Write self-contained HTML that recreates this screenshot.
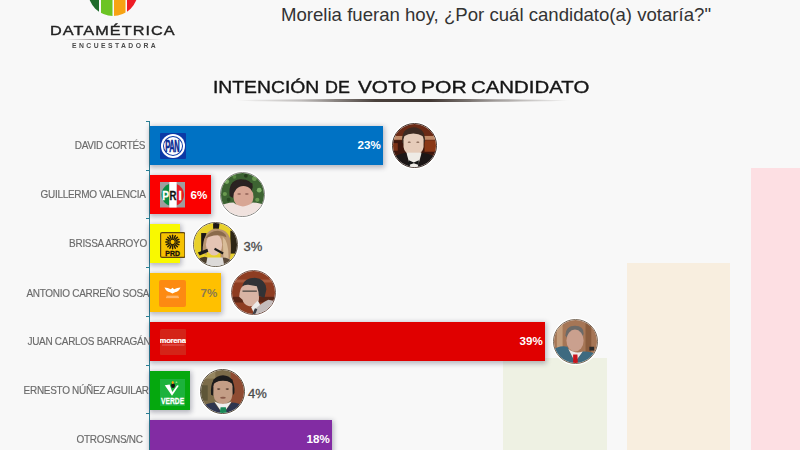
<!DOCTYPE html>
<html><head><meta charset="utf-8">
<style>
*{margin:0;padding:0;box-sizing:border-box}
html,body{width:800px;height:450px;overflow:hidden;background:#f8f8f8;font-family:"Liberation Sans",sans-serif;position:relative}
.a{position:absolute}
.lbl{position:absolute;font-size:10.5px;color:#6a6a6a;white-space:nowrap;text-align:right;line-height:11px;letter-spacing:-0.3px;-webkit-text-stroke:0.15px #6a6a6a;transform:scaleX(0.95);transform-origin:right center}
.bar{position:absolute;left:150px;height:39px;box-shadow:0 1px 5px 1.5px rgba(40,40,70,0.33)}
.pct{position:absolute;font-size:11.6px;font-weight:bold;color:#fff;line-height:11px;white-space:nowrap}
.pcto{position:absolute;font-size:13px;color:#4a4a4a;line-height:12px;white-space:nowrap;-webkit-text-stroke:0.3px #4a4a4a}
.tick{position:absolute;left:146px;width:3px;height:1px;background:#2a7f95}
.ph{position:absolute;border-radius:50%;overflow:hidden;border:1px solid #555;box-shadow:0 0 0 1.3px rgba(255,255,255,0.95)}
.ph svg{display:block;width:100%;height:100%}
.tw{position:absolute;top:78.5px;font-size:16.2px;line-height:17px;color:#151515;-webkit-text-stroke:0.35px #151515;white-space:nowrap;transform-origin:left center}
</style></head><body>

<!-- background pale columns -->
<div class="a" style="left:503px;top:358px;width:104px;height:92px;background:#eef1e3"></div>
<div class="a" style="left:627px;top:263px;width:102.5px;height:187px;background:#f8eedf"></div>
<div class="a" style="left:750.5px;top:168px;width:50px;height:282px;background:#fddfe3"></div>

<!-- logo -->
<svg class="a" style="left:85px;top:0" width="56" height="18" viewBox="0 0 56 18">
  <defs><clipPath id="lc"><circle cx="28" cy="-9" r="25"/></clipPath></defs>
  <g clip-path="url(#lc)">
    <rect x="0" y="-40" width="14" height="60" fill="#1e6b2a"/>
    <rect x="16" y="-40" width="11.5" height="60" fill="#6cc424"/>
    <rect x="29" y="-40" width="11.5" height="60" fill="#f7a313"/>
    <rect x="42" y="-40" width="14" height="60" fill="#ee1c25"/>
  </g>
</svg>
<div class="a" style="left:49.5px;top:23px;font-size:13px;line-height:15px;color:#222;letter-spacing:0.85px;-webkit-text-stroke:0.35px #222;white-space:nowrap;transform:scaleX(1.25);transform-origin:left center">DATAMÉTRICA</div>
<div class="a" style="left:64px;top:38.5px;width:98px;height:1.5px;background:linear-gradient(90deg,rgba(90,80,80,0),rgba(90,80,80,.75) 40%,rgba(90,80,80,.75) 60%,rgba(90,80,80,0))"></div>
<div class="a" style="left:72px;top:42px;font-size:6.3px;line-height:7px;font-weight:bold;color:#4a4a4a;letter-spacing:2.25px;white-space:nowrap;transform:scaleX(1.08);transform-origin:left center">ENCUESTADORA</div>

<!-- header text -->
<div class="a" style="left:281px;top:4px;font-size:18.6px;line-height:22px;color:#333">Morelia fueran hoy, ¿Por cuál candidato(a) votaría?"</div>

<!-- title -->
<div class="tw" style="left:212.56px;transform:scaleX(1.193)">INTENCIÓN</div>
<div class="tw" style="left:325.14px;transform:scaleX(1.107)">DE</div>
<div class="tw" style="left:357.50px;transform:scaleX(1.278)">VOTO</div>
<div class="tw" style="left:420.70px;transform:scaleX(1.303)">POR</div>
<div class="tw" style="left:471.24px;transform:scaleX(1.261)">CANDIDATO</div>
<div class="a" style="left:235px;top:99px;width:335px;height:3px;border-radius:50%;background:linear-gradient(90deg,rgba(55,45,40,0),rgba(55,45,40,.3) 20%,rgba(55,45,40,.9) 42%,rgba(55,45,40,.95) 58%,rgba(55,45,40,.45) 78%,rgba(55,45,40,0))"></div>

<!-- axis -->
<div class="a" style="left:149px;top:121px;width:1px;height:329px;background:#2a7f95"></div>
<div class="tick" style="top:121px"></div>
<div class="tick" style="top:170px"></div>
<div class="tick" style="top:218px"></div>
<div class="tick" style="top:267px"></div>
<div class="tick" style="top:316px"></div>
<div class="tick" style="top:365px"></div>
<div class="tick" style="top:413px"></div>

<!-- labels -->
<div class="lbl" style="right:655px;top:140px">DAVID CORTÉS</div>
<div class="lbl" style="right:654px;top:189px">GUILLERMO VALENCIA</div>
<div class="lbl" style="right:653px;top:238px">BRISSA ARROYO</div>
<div class="lbl" style="right:650.5px;top:287.5px">ANTONIO CARREÑO SOSA</div>
<div class="lbl" style="right:650px;top:336px">JUAN CARLOS BARRAGÁN</div>
<div class="lbl" style="right:651.5px;top:385px">ERNESTO NÚÑEZ AGUILAR</div>
<div class="lbl" style="right:657px;top:434px">OTROS/NS/NC</div>

<!-- bars -->
<div class="bar" style="top:126px;width:233px;background:#0072c4"></div>
<div class="bar" style="top:175px;width:61px;background:#fb0000"></div>
<div class="bar" style="top:224px;width:30px;background:#f9f900"></div>
<div class="bar" style="top:273px;width:71px;background:#ffc000"></div>
<div class="bar" style="top:322px;width:395px;background:#e00000"></div>
<div class="bar" style="top:371px;width:40px;background:#05a80e"></div>
<div class="bar" style="top:420px;width:182px;background:#822ca3"></div>

<!-- percentages -->
<div class="pct" style="left:357.5px;top:139.3px">23%</div>
<div class="pct" style="left:190.5px;top:188.5px">6%</div>
<div class="pcto" style="left:243.5px;top:240.5px">3%</div>
<div class="pct" style="left:200.5px;top:286.5px;color:#8c7a4e">7%</div>
<div class="pct" style="left:519.5px;top:335.3px">39%</div>
<div class="pcto" style="left:248px;top:388px">4%</div>
<div class="pct" style="left:306.5px;top:433px">18%</div>


<!-- party logos -->
<svg class="a" style="left:159.5px;top:132.5px" width="26" height="26" viewBox="0 0 26 26">
  <rect x="0" y="0" width="26" height="26" rx="1" fill="#0b3aa6"/>
  <circle cx="13" cy="13" r="12" fill="#fff"/>
  <circle cx="13" cy="13" r="10" fill="#0b3aa6"/>
  <circle cx="13" cy="13" r="9" fill="#fff"/>
  <text x="12.3" y="19.3" text-anchor="middle" font-family="Liberation Sans" font-weight="bold" font-size="16" fill="#0a2a92" stroke="#0a2a92" stroke-width="0.6" transform="translate(12.3 0) scale(0.47 1) translate(-12.3 0)" letter-spacing="-0.8">PAN</text>
</svg>

<svg class="a" style="left:159.5px;top:182.3px" width="25.5" height="25.5" viewBox="0 0 25.5 25.5">
  <rect x="0" y="0" width="25.5" height="25.5" fill="#9e9e9e"/>
  <defs><clipPath id="pric"><circle cx="12.75" cy="12.75" r="11.2"/></clipPath></defs>
  <g clip-path="url(#pric)">
    <rect x="0" y="0" width="9.3" height="25.5" fill="#0a8c42"/>
    <rect x="16.6" y="0" width="9" height="25.5" fill="#e81c24"/>
  </g>
  <rect x="9.3" y="0" width="7.3" height="25.5" fill="#fff"/>
  <text x="5.7" y="17.6" text-anchor="middle" font-family="Liberation Sans" font-weight="bold" font-size="12" fill="#fff" stroke="#fff" stroke-width="0.3" transform="translate(5.7 0) scale(0.85 1) translate(-5.7 0)">P</text>
  <text x="12.9" y="17.6" text-anchor="middle" font-family="Liberation Sans" font-weight="bold" font-size="12" fill="#111" stroke="#111" stroke-width="0.3" transform="translate(12.9 0) scale(0.8 1) translate(-12.9 0)">R</text>
  <text x="20.2" y="17.6" text-anchor="middle" font-family="Liberation Sans" font-weight="bold" font-size="12" fill="#fff" stroke="#fff" stroke-width="0.3">I</text>
</svg>

<svg class="a" style="left:159.5px;top:231.5px" width="25.5" height="26" viewBox="0 0 25.5 26">
  <rect x="0.6" y="0.6" width="24.3" height="24.8" rx="1.5" fill="#f6c200" stroke="#5e4512" stroke-width="1.2"/>
  <g transform="translate(12.6 10) scale(0.95)" stroke="#221a08" stroke-width="1.5" stroke-linecap="round">
    <line x1="0" y1="-7.2" x2="0" y2="-4"/><line x1="0" y1="7.2" x2="0" y2="4"/>
    <line x1="-7.2" y1="0" x2="-4" y2="0"/><line x1="7.2" y1="0" x2="4" y2="0"/>
    <line x1="-5.1" y1="-5.1" x2="-2.8" y2="-2.8"/><line x1="5.1" y1="5.1" x2="2.8" y2="2.8"/>
    <line x1="-5.1" y1="5.1" x2="-2.8" y2="2.8"/><line x1="5.1" y1="-5.1" x2="2.8" y2="-2.8"/>
    <line x1="-2.8" y1="-6.6" x2="-1.6" y2="-3.7"/><line x1="2.8" y1="6.6" x2="1.6" y2="3.7"/>
    <line x1="2.8" y1="-6.6" x2="1.6" y2="-3.7"/><line x1="-2.8" y1="6.6" x2="-1.6" y2="3.7"/>
    <line x1="-6.6" y1="-2.8" x2="-3.7" y2="-1.6"/><line x1="6.6" y1="2.8" x2="3.7" y2="1.6"/>
    <line x1="-6.6" y1="2.8" x2="-3.7" y2="1.6"/><line x1="6.6" y1="-2.8" x2="3.7" y2="-1.6"/>
    <circle cx="0" cy="0" r="2.8" fill="#f6c200" stroke-width="1.1"/>
  </g>
  <text x="12.6" y="23.9" text-anchor="middle" font-family="Liberation Sans" font-weight="bold" font-size="7.8" fill="#141008" stroke="#141008" stroke-width="0.35" transform="translate(12.6 0) scale(0.88 1) translate(-12.6 0)">PRD</text>
</svg>

<svg class="a" style="left:159px;top:280px" width="27" height="27" viewBox="0 0 27 27">
  <rect x="0" y="0" width="27" height="27" rx="2" fill="#fd8a12"/>
  <path d="M5.5 7.6 Q9 8 11.8 9.2 L13.5 7.8 L15.2 9.2 Q18 8 21.5 7.6 Q20 11.8 16 12.2 L13.5 13.4 L11 12.2 Q7 11.8 5.5 7.6 Z" fill="#fff"/>
  <rect x="7.5" y="15.8" width="12" height="0.8" fill="#ffd4a8"/>
  <rect x="7" y="17.3" width="13" height="0.8" fill="#ffc890"/>
</svg>

<svg class="a" style="left:159.5px;top:328.5px" width="26.5" height="26.5" viewBox="0 0 26.5 26.5">
  <rect x="0" y="0" width="26.5" height="26.5" rx="2" fill="#d42418"/>
  <text x="12.6" y="14.2" text-anchor="middle" font-family="Liberation Sans" font-weight="bold" font-size="7.8" fill="#fff" stroke="#fff" stroke-width="0.2" letter-spacing="-0.35">morena</text>
  <rect x="2" y="15.6" width="22.5" height="0.8" fill="#e87070"/>
</svg>

<svg class="a" style="left:159.5px;top:378.5px" width="25" height="27" viewBox="0 0 25 27">
  <rect x="0" y="0" width="25" height="27" fill="#1cb23c"/>
  <path d="M4.8 6.2 L9.6 5.6 L12.3 13 L17.2 6.2 L18.8 6.8 L12 16.8 Z" fill="#fff"/>
  <ellipse cx="13" cy="6.5" rx="2" ry="2.5" fill="#111"/>
  <ellipse cx="12.8" cy="3.6" rx="1.1" ry="1.5" fill="#f5a010"/>
  <ellipse cx="16.5" cy="3.2" rx="1" ry="0.8" fill="#a8e090"/>
  <text x="12.6" y="24.8" text-anchor="middle" font-family="Liberation Sans" font-weight="bold" font-size="8.8" fill="#fff" stroke="#fff" stroke-width="0.25" transform="translate(12.6 0) scale(0.76 1) translate(-12.6 0)">VERDE</text>
</svg>

<!-- photos -->
<div class="ph" style="left:391.5px;top:123px;width:45px;height:45px;border-color:#4a3a34">
<svg viewBox="0 0 45 45"><defs><filter id="bl1" x="-20%" y="-20%" width="140%" height="140%"><feGaussianBlur stdDeviation="0.8"/></filter></defs>
<g filter="url(#bl1)">
<rect x="-5" y="-5" width="55" height="55" fill="#6a2a12"/>
<rect x="-5" y="12.5" width="55" height="4" fill="#c08a68"/>
<rect x="-5" y="17" width="55" height="15" fill="#3c160a"/>
<rect x="33" y="17" width="15" height="12" fill="#8a3818"/>
<rect x="-5" y="20" width="10" height="8" fill="#7a3216"/>
<path d="M9.5 19 Q8.5 4 21.5 3.3 Q34 4 33.5 18 L32 21 L11 21 Z" fill="#3e2c22"/>
<path d="M11 16 Q11 9 21.5 9 Q32 9 32 16 L32 24 Q31 32 21.5 33 Q12 32 11 24 Z" fill="#e6ccba"/>
<path d="M11 13 Q21 7 32 13 L32 10 Q22 4 11 10 Z" fill="#3e2c22"/>
<ellipse cx="17" cy="19" rx="1.6" ry="0.7" fill="#7a5a4a"/><ellipse cx="26" cy="19" rx="1.6" ry="0.7" fill="#7a5a4a"/>
<path d="M14 30 L30 30 L30 46 L14 46 Z" fill="#eeebe6"/>
<path d="M-5 50 L-5 37 Q5 31 14 30 L18.5 46 L-5 50 Z" fill="#1c1818"/>
<path d="M50 50 L50 37 Q40 31 30 30 L25.5 46 L50 50 Z" fill="#1c1818"/>
<path d="M16.5 38 L21.8 40.2 L27 38 L27 43 L21.8 41.2 L16.5 43 Z" fill="#141414"/>
</g></svg></div>

<div class="ph" style="left:220px;top:172px;width:45px;height:45px;border-color:#8a8a86">
<svg viewBox="0 0 45 45"><defs><filter id="bl2" x="-20%" y="-20%" width="140%" height="140%"><feGaussianBlur stdDeviation="0.8"/></filter></defs>
<g filter="url(#bl2)">
<rect x="-5" y="-5" width="55" height="55" fill="#3c6432"/>
<circle cx="6" cy="9" r="2.5" fill="#78a860"/><circle cx="35" cy="6" r="2.5" fill="#6a9a52"/>
<circle cx="40" cy="18" r="2.5" fill="#80b068"/><circle cx="4" cy="22" r="2.2" fill="#6a9a50"/>
<circle cx="26" cy="3" r="2" fill="#263e1e"/><circle cx="8" cy="28" r="2" fill="#2a4a22"/>
<circle cx="38" cy="28" r="2.2" fill="#6a9a50"/><circle cx="14" cy="4" r="2" fill="#5a8a44"/>
<path d="M9 24 Q7 8 20 6.5 Q32 6 33 15 L32 20 L12 26 Z" fill="#2a2220"/>
<ellipse cx="23.5" cy="25" rx="10.5" ry="11.5" fill="#d8a694"/>
<path d="M12 17 Q20 11 33 15 L33 11 Q20 5 11 12 Z" fill="#2a2220"/>
<ellipse cx="19" cy="22" rx="2" ry="0.8" fill="#8a5a50"/><ellipse cx="27" cy="22" rx="2" ry="0.8" fill="#8a5a50"/>
<path d="M-5 50 L-5 37 Q4 31 13 31 Q23 39 33 31 Q42 31 50 36 L50 50 Z" fill="#f0e2de"/>
</g></svg></div>

<div class="ph" style="left:193px;top:221.5px;width:45px;height:45px;border-color:#6a6050">
<svg viewBox="0 0 45 45"><defs><filter id="bl3" x="-20%" y="-20%" width="140%" height="140%"><feGaussianBlur stdDeviation="0.8"/></filter></defs>
<g filter="url(#bl3)">
<rect x="-5" y="-5" width="55" height="55" fill="#e8d02a"/>
<rect x="7.5" y="10.5" width="5.5" height="20" fill="#1a1812"/>
<path d="M20 -2 L27 -2 L26 6 L20 6 Z" fill="#1a1812"/>
<path d="M38 8 L48 8 L48 32 L38 32 Z" fill="#2e2618"/>
<path d="M9 30 Q9 8 22 6 Q36 6 38 18 Q40 32 36 42 L28 42 L27 16 L14 18 L13 34 Z" fill="#b89470"/>
<path d="M30 14 Q37 20 36 40 L31 40 Z" fill="#d8bc98"/>
<ellipse cx="21" cy="22.5" rx="8.5" ry="11.5" fill="#e4c4b4"/>
<path d="M12 16 Q16 8 25 8 Q33 9 34 15 Q26 11 17 14 Z" fill="#8a6a4c"/>
<path d="M4 31 L14 27 L15 30 L6 34 Z" fill="#1c1c1c"/>
<path d="M21 28 L30 33 L31 31 L22 26 Z" fill="#1c1c1c"/>
<path d="M-5 50 L-5 40 Q8 36 14 36 L30 36 Q40 38 50 42 L50 50 Z" fill="#dcdad8"/>
<path d="M4 38 Q10 34 14 36 L12 46 L4 46 Z" fill="#4a3c2c"/>
<path d="M30 36 Q36 36 40 40 L40 46 L32 46 Z" fill="#5a4a38"/>
</g></svg></div>

<div class="ph" style="left:231px;top:270px;width:45px;height:45px;border-color:#7a5a50">
<svg viewBox="0 0 45 45"><defs><filter id="bl4" x="-20%" y="-20%" width="140%" height="140%"><feGaussianBlur stdDeviation="0.8"/></filter></defs>
<g filter="url(#bl4)">
<rect x="-5" y="-5" width="55" height="55" fill="#8e3e24"/>
<rect x="-5" y="9" width="55" height="3" fill="#a85a3c"/>
<rect x="-5" y="27" width="55" height="6" fill="#5a2616"/>
<path d="M11 15 Q13 7 24 7 Q35 8 36 19 L34 28 L27 26 L25 17 Q16 16 11 17 Z" fill="#323234"/>
<path d="M8 23 Q9 14 17 14.5 L26 16 Q29 24 28 31 Q25 37 18 37 Q12 35 11 30 L7.5 27 Z" fill="#d8b4a4"/>
<rect x="11" y="20.5" width="15" height="1.1" fill="#2a2a2a"/>
<path d="M20 38 L27 31 L32 40 L24 46 Z" fill="#ecebea"/>
<path d="M21 50 L23 41 Q31 33 38 30 Q45 31 50 33 L50 50 Z" fill="#c4bcbc"/>
<path d="M21 46 L24 39 L26.5 40 L24 46 Z" fill="#3c3c44"/>
</g></svg></div>

<div class="ph" style="left:553px;top:318.5px;width:45px;height:45px;border-color:#7a6a5a">
<svg viewBox="0 0 45 45"><defs><filter id="bl5" x="-20%" y="-20%" width="140%" height="140%"><feGaussianBlur stdDeviation="0.8"/></filter></defs>
<g filter="url(#bl5)">
<rect x="-5" y="-5" width="55" height="55" fill="#a67656"/>
<rect x="3" y="-5" width="6" height="55" fill="#c49c7a"/>
<rect x="33" y="-5" width="6" height="55" fill="#8a5c3c"/>
<rect x="37" y="28" width="5" height="4" fill="#2a2a2a"/>
<path d="M12 16 Q12 6 22 6 Q31 6 31 14 L30 18 L13 18 Z" fill="#6c6a68"/>
<ellipse cx="22" cy="21.5" rx="9" ry="11.5" fill="#caa08e"/>
<path d="M-5 50 L-5 34 Q4 26 14 28 L22 44 L30 33 Q38 32 50 38 L50 50 Z" fill="#3c6a80"/>
<path d="M15 30 L22 44 L30 33 Q22 36 15 30 Z" fill="#ecebea"/>
<path d="M20 36 L24.5 36 L25 46 L20 46 Z" fill="#c8141e"/>
</g></svg></div>

<div class="ph" style="left:200px;top:368.5px;width:45px;height:45px;border-color:#5a5040">
<svg viewBox="0 0 45 45"><defs><filter id="bl6" x="-20%" y="-20%" width="140%" height="140%"><feGaussianBlur stdDeviation="0.8"/></filter></defs>
<g filter="url(#bl6)">
<rect x="-5" y="-5" width="55" height="55" fill="#7c6c4a"/>
<rect x="-5" y="-5" width="20" height="14" fill="#958660"/>
<rect x="31" y="-5" width="20" height="55" fill="#8e4c30"/>
<rect x="-5" y="16" width="12" height="16" fill="#5e5638"/>
<path d="M10.5 26 Q9 6 23 5.5 Q36 6 35 24 L33 27 L32 15 L14 15 L13 27 Z" fill="#1e1c1c"/>
<path d="M13 17 Q13 11 23 11 Q33 11 33 17 L33 26 Q32 35 23 36 Q14 35 13 26 Z" fill="#c49e86"/>
<path d="M13 14 Q23 8 33 14 L33 10 Q23 4 13 10 Z" fill="#1e1c1c"/>
<ellipse cx="18.5" cy="20" rx="1.8" ry="0.8" fill="#5a4034"/><ellipse cx="27.5" cy="20" rx="1.8" ry="0.8" fill="#5a4034"/>
<ellipse cx="23" cy="29" rx="3" ry="1" fill="#8a5a4a"/>
<path d="M-5 50 L-5 42 Q6 34 14 34 L23 46 L32 34 Q40 34 50 40 L50 50 Z" fill="#2e3650"/>
<path d="M14 33 L23 46 L32 33 Q23 38 14 33 Z" fill="#efefef"/>
<path d="M20.5 39 L26 39 L27 46 L19.5 46 Z" fill="#1a8a58"/>
</g></svg></div>

</body></html>
